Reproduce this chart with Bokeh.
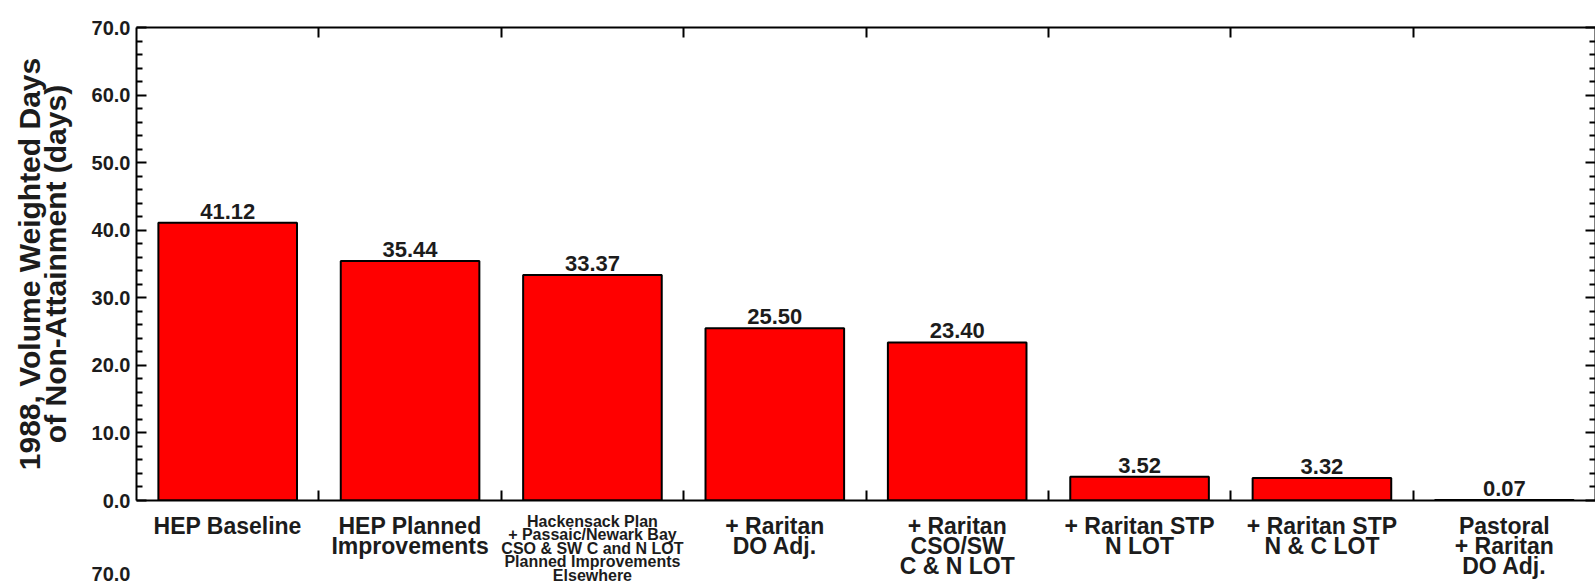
from bokeh.plotting import figure
from bokeh.layouts import column
from bokeh.models import (Range1d, LinearAxis, FixedTicker, PrintfTickFormatter,
                          CustomJSTickFormatter, ColumnDataSource)
from bokeh.embed import file_html
from bokeh.resources import INLINE
from bokeh.core.properties import value

# ---- data ----
categories = [
    "HEP Baseline",
    "HEP Planned\nImprovements",
    "Hackensack Plan\n+ Passaic/Newark Bay\nCSO & SW C and N LOT\nPlanned Improvements\nElsewhere",
    "+ Raritan\nDO Adj.",
    "+ Raritan\nCSO/SW\nC & N LOT",
    "+ Raritan STP\nN LOT",
    "+ Raritan STP\nN & C LOT",
    "Pastoral\n+ Raritan\nDO Adj.",
]
values = [41.12, 35.44, 33.37, 25.50, 23.40, 3.52, 3.32, 0.07]
small_label_index = 2          # the long label printed in a smaller font
y_label = "1988, Volume Weighted Days\nof Non-Attainment (days)"
y_min, y_max, y_step, y_minor_step = 0, 70, 10, 2

# ---- layout / style ----
FONT = "Liberation Sans"
TXT = "#1c1c1c"
FRAME_W = 1459
PLOT_H = 473
LEFT = 136
GAP = 12
LABEL_ZONE = 71
TICK_PX = 10

n = len(categories)
centers = [i + 0.5 for i in range(n)]
bounds = [i + 1 for i in range(n - 1)]
value_labels = ["%.2f" % v for v in values]
major_y = list(range(y_min, y_max + 1, y_step))
minor_y = [v for v in range(y_min, y_max + 1, y_minor_step) if v % y_step]

bars = ColumnDataSource(dict(x=centers, top=values, lab=value_labels))
is_small = [i == small_label_index for i in range(n)]
cats = ColumnDataSource(dict(
    x=centers, y=[0] * n, text=categories,
    size=["16px" if s else "23px" for s in is_small],
    lh=[0.8 if s else 0.78 for s in is_small],
    off=[0 if s else 0 for s in is_small]))

x_range = Range1d(0, n)

p = figure(frame_width=FRAME_W, frame_height=PLOT_H,
           x_range=x_range, y_range=Range1d(y_min, y_max),
           output_backend="svg", toolbar_location=None,
           min_border_left=LEFT, min_border_top=27, min_border_right=0,
           min_border_bottom=GAP,
           x_axis_location=None, y_axis_location=None,
           background_fill_color="white", border_fill_color="white")
p.xgrid.visible = False
p.ygrid.visible = False
p.outline_line_color = None

p.vbar(x="x", top="top", width=0.76, bottom=y_min, source=bars,
       fill_color="#ff0000", line_color="black", line_width=2)

p.text(x="x", y="top", text="lab", source=bars, y_offset=-4,
       text_align="center", text_baseline="bottom",
       text_font=value(FONT), text_font_style="bold",
       text_font_size="22px", text_color=TXT)


def style_axis(ax):
    ax.axis_line_color = "black"
    ax.axis_line_width = 2
    ax.major_tick_line_color = "black"
    ax.minor_tick_line_color = "black"
    ax.major_tick_line_width = 2
    ax.minor_tick_line_width = 2
    ax.major_tick_out = 0
    ax.minor_tick_out = 0
    ax.major_label_text_font = FONT
    ax.major_label_text_font_style = "bold"
    ax.major_label_text_color = TXT


blank = CustomJSTickFormatter(code="return ''")

left = LinearAxis(ticker=FixedTicker(ticks=major_y, minor_ticks=minor_y),
                  formatter=PrintfTickFormatter(format="%.1f"),
                  axis_label=y_label)
style_axis(left)
left.major_tick_in = TICK_PX
left.minor_tick_in = 6
left.major_label_text_font_size = "20px"
left.major_label_standoff = 6
left.axis_label_text_font = FONT
left.axis_label_text_font_style = "bold"
left.axis_label_text_font_size = "30px"
left.axis_label_text_color = TXT
left.axis_label_text_line_height = 0.76
left.axis_label_standoff = 17
p.add_layout(left, "left")

right = LinearAxis(ticker=FixedTicker(ticks=major_y, minor_ticks=minor_y), formatter=blank)
style_axis(right)
right.major_tick_in = TICK_PX
right.minor_tick_in = 6
right.major_label_standoff = 0
p.add_layout(right, "right")

top = LinearAxis(ticker=FixedTicker(ticks=bounds), formatter=blank)
style_axis(top)
top.major_tick_in = TICK_PX
top.major_label_standoff = 0
p.add_layout(top, "above")

bottom = LinearAxis(ticker=FixedTicker(ticks=bounds), formatter=blank)
style_axis(bottom)
bottom.major_tick_in = TICK_PX
bottom.major_label_standoff = 0
p.add_layout(bottom, "below")

# ---- category label strip (shares the x scale) ----
q = figure(frame_width=FRAME_W, frame_height=LABEL_ZONE,
           x_range=x_range, y_range=Range1d(-LABEL_ZONE, 0),
           output_backend="svg", toolbar_location=None,
           min_border_left=LEFT, min_border_top=0, min_border_right=0,
           min_border_bottom=0,
           x_axis_location=None, y_axis_location=None,
           background_fill_color="white", border_fill_color="white")
q.xgrid.visible = False
q.ygrid.visible = False
q.outline_line_color = None

q.text(x="x", y="y", text="text", source=cats, y_offset="off",
       text_align="center", text_baseline="top",
       text_font=value(FONT), text_font_style="bold",
       text_font_size="size", text_line_height="lh", text_color=TXT)

# top tick label of the next panel, cut by the page bottom
next_tick = -(LABEL_ZONE - 4)
frag = LinearAxis(ticker=FixedTicker(ticks=[next_tick]))
style_axis(frag)
frag.axis_line_color = None
frag.major_tick_line_color = None
frag.major_tick_in = 0
frag.major_label_overrides = {next_tick: "%.1f" % y_max}
frag.major_label_text_font_size = "20px"
frag.major_label_standoff = 6
q.add_layout(frag, "left")

layout = column(p, q, spacing=0)
open("out.html", "w").write(file_html(layout, INLINE))
